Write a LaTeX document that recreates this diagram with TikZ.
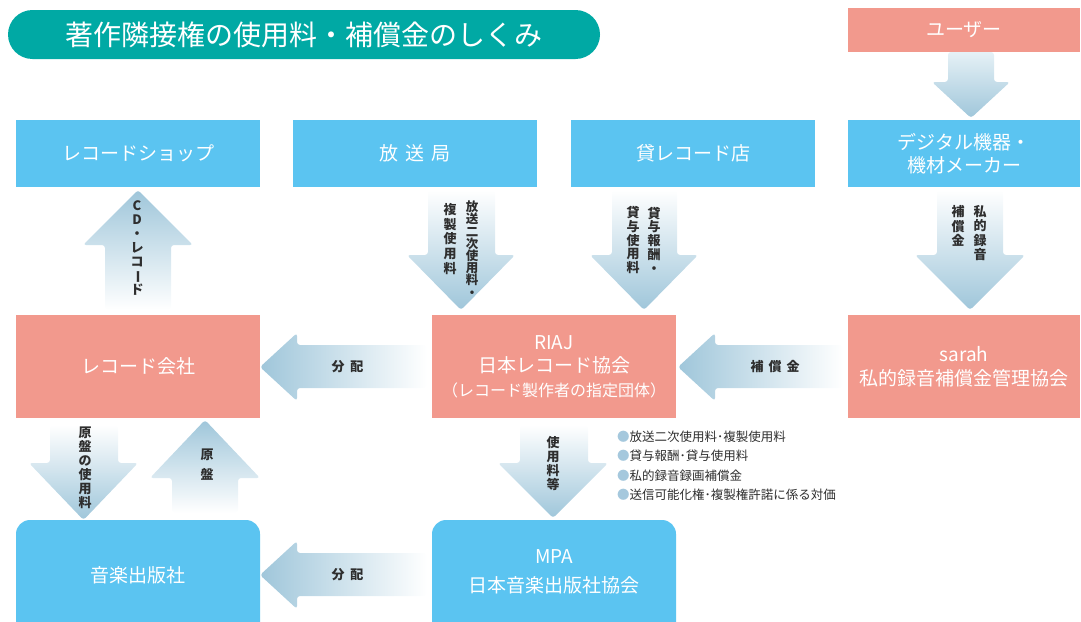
\documentclass[tikz,border=0pt]{standalone}
\usepackage{fontspec}
\setmainfont{Noto Sans CJK JP}
\definecolor{tealc}{HTML}{00A9A4}
\definecolor{salmonc}{HTML}{F2998D}
\definecolor{bluec}{HTML}{5BC4F1}
\definecolor{arrowc}{HTML}{9FC6DA}
\definecolor{lightc}{HTML}{E6F1F6}
\definecolor{textc}{HTML}{2E2E2E}
\definecolor{bulletc}{HTML}{A5C8DD}
\newcommand\myDown[7]{\shade[top color=white, bottom color=arrowc, rounded corners=3]
  (#1,#3) -- (#2,#3) -- (#2,#4) -- (#6,#4) -- ({(#5+#6)/2},#7) -- (#5,#4) -- (#1,#4) -- cycle;}
\newcommand\myUp[7]{\shade[top color=arrowc, bottom color=white, rounded corners=3]
  (#1,#3) -- (#1,#4) -- (#5,#4) -- ({(#5+#6)/2},#7) -- (#6,#4) -- (#2,#4) -- (#2,#3) -- cycle;}
% tip x, tip y, head base x, head half, shaft top, shaft bottom, right end
\newcommand\myLeft[7]{\shade[left color=arrowc, right color=white, rounded corners=3]
  (#7,#5) -- (#3,#5) -- (#3,{#2-#4}) -- (#1,#2) -- (#3,{#2+#4}) -- (#3,#6) -- (#7,#6) -- cycle;}
\begin{document}
\begin{tikzpicture}[x=1pt,y=-1pt,
  boxtext/.style={text=white, align=center, inner sep=0pt, font=\fontsize{19}{23.5}\selectfont},
  bluebox/.style={boxtext, fill=bluec},
  salmonbox/.style={boxtext, fill=salmonc},
  vlab/.style={text=textc, align=center, inner sep=0pt, font=\bfseries\fontsize{13}{14}\selectfont},
  hlab/.style={text=textc, inner sep=0pt, font=\bfseries\fontsize{13}{14}\selectfont},
  bul/.style={text=textc, anchor=west, inner sep=0pt, font=\fontsize{12.5}{14}\selectfont}]
\useasboundingbox (0,0) rectangle (1081,621);
\clip (0,0) rectangle (1081,621);

% title
\node[fill=tealc, rounded corners=24.5, minimum width=592, minimum height=49, text=white,
  inner sep=0pt, font=\fontsize{28}{30}\selectfont] (title) at (304,34.5) {著作隣接権の使用料・補償金のしくみ};

% top row
\node[salmonbox, minimum width=232, minimum height=44] (user) at (964,30) {ユーザー};

% second row
\node[bluebox, minimum width=244, minimum height=67] (shop) at (138,153.5) {レコードショップ};
\node[bluebox, minimum width=244, minimum height=67] (bc) at (415,153.5) {放\hspace{7pt}送\hspace{7pt}局};
\node[bluebox, minimum width=244, minimum height=67] (rent) at (693,153.5) {貸レコード店};
\node[bluebox, minimum width=232, minimum height=67] (maker) at (964,153.5) {デジタル機器・\\機材メーカー};

% third row
\node[salmonbox, minimum width=244, minimum height=103] (label) at (138,366.5) {レコード会社};
\node[salmonbox, minimum width=244, minimum height=103] (riaj) at (554,366.5)
  {RIAJ\\日本レコード協会\\{\fontsize{16}{23.5}\selectfont （レコード製作者の指定団体）}};
\node[salmonbox, minimum width=232, minimum height=103] (sarah) at (964,366.5) {sarah\\私的録音補償金管理協会};

% bottom row
\fill[bluec, rounded corners=14] (16,520) rectangle (260,660);
\fill[bluec, rounded corners=14] (432,520) rectangle (676,660);
\node[boxtext] (pub) at (138,575) {音楽出版社};
\node[boxtext] (mpa) at (554,572) {MPA\\[5pt]日本音楽出版社協会};

% arrows
\shade[top color=lightc, bottom color=arrowc, rounded corners=3]
  (948,52) -- (994,52) -- (994,82) -- (1010,82) -- (971,118) -- (932,82) -- (948,82) -- cycle;
\myUp{105}{171}{310}{245}{83}{193}{190}
\myDown{428}{495}{190}{255}{407}{515}{310}
\myDown{612}{677}{190}{255}{590}{698}{310}
\myDown{937}{1003}{190}{255}{915}{1025}{310}
\myLeft{260}{367}{297}{34}{345}{388}{427}
\myLeft{678}{367}{715}{34}{345}{388}{843}
\myDown{50}{118}{425}{463}{29}{138}{520}
\myUp{172}{238}{513}{478}{150}{260}{420}
\myDown{520}{588}{425}{463}{498}{608}{518}
\myLeft{260}{575}{297}{34}{553}{596}{427}

% arrow labels
\node[vlab] (lcd) at (137,248) {C\\D\\・\\レ\\コ\\\rotatebox[origin=c]{-90}{ー}\\ド};
\node[vlab, font=\bfseries\fontsize{12.5}{12.2}\selectfont] (lbc1) at (472,249) {放\\送\\二\\次\\使\\用\\料\\・};
\node[vlab, font=\bfseries\fontsize{13}{14.6}\selectfont] (lbc2) at (450,239) {複\\製\\使\\用\\料};
\node[vlab, font=\bfseries\fontsize{13}{13.7}\selectfont] (lrt1) at (654,240) {貸\\与\\報\\酬\\・};
\node[vlab, font=\bfseries\fontsize{13}{13.7}\selectfont] (lrt2) at (633,240) {貸\\与\\使\\用\\料};
\node[vlab, font=\bfseries\fontsize{13}{14.3}\selectfont] (lpv1) at (980,233) {私\\的\\録\\音};
\node[vlab, font=\bfseries\fontsize{13}{14.3}\selectfont] (lpv2) at (958,226) {補\\償\\金};
\node[vlab] (lmas) at (85,467.5) {原\\盤\\の\\使\\用\\料};
\node[vlab, font=\bfseries\fontsize{13}{20}\selectfont] (lmas2) at (207,465) {原\\盤};
\node[vlab] (lfee) at (553,464) {使\\用\\料\\等};
\node[hlab] (ldist1) at (347.5,367) {分\hspace{6pt}配};
\node[hlab] (lcomp) at (775,367) {補\hspace{5pt}償\hspace{5pt}金};
\node[hlab] (ldist2) at (347.5,575) {分\hspace{6pt}配};

% bullet list
\node[bul] (b1) at (617,437) {\textcolor{bulletc}{●}放送二次使用料･複製使用料};
\node[bul] (b2) at (617,456) {\textcolor{bulletc}{●}貸与報酬･貸与使用料};
\node[bul] (b3) at (617,476) {\textcolor{bulletc}{●}私的録音録画補償金};
\node[bul] (b4) at (617,495) {\textcolor{bulletc}{●}送信可能化権･複製権許諾に係る対価};
\end{tikzpicture}
\end{document}
